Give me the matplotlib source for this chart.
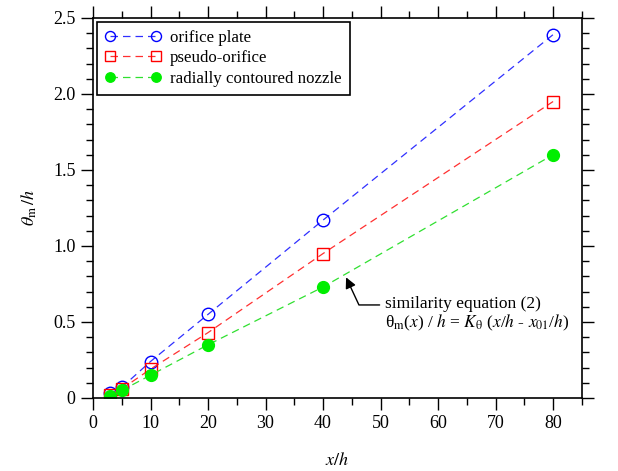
import numpy as np
import matplotlib.pyplot as plt

plt.rcParams['font.family'] = ['Liberation Serif', 'DejaVu Serif']
plt.rcParams['mathtext.fontset'] = 'stix'

# data
x = [3, 5, 10, 20, 40, 80]
orifice = [0.03, 0.07, 0.24, 0.55, 1.17, 2.39]
pseudo = [0.02, 0.06, 0.19, 0.43, 0.95, 1.95]
nozzle = [0.01, 0.05, 0.15, 0.35, 0.73, 1.60]

fig = plt.figure(figsize=(6.18, 4.71), dpi=100)
ax = fig.add_axes([0.1505, 0.155, 0.791, 0.807])

ax.plot(x, orifice, ls=(0, (6, 4)), lw=0.9, color='#3030ff', marker='o', ms=9,
        mfc='none', mec='blue', mew=1.0, label='orifice plate')
ax.plot(x, pseudo, ls=(0, (6, 4)), lw=0.9, color='#ff3030', marker='s', ms=9,
        mfc='none', mec='red', mew=1.0, label='pseudo-orifice')
ax.plot(x, nozzle, ls=(0, (6, 4)), lw=0.9, color='#30e030', marker='o', ms=8.5,
        mfc='#00ee00', mec='#00ee00', label='radially contoured nozzle')

ax.set_xlim(0, 85)
ax.set_ylim(0, 2.5)
ax.set_xticks(np.arange(0, 81, 10))
ax.set_xticks(np.arange(0, 86, 5), minor=True)
ax.set_yticks(np.arange(0, 2.51, 0.5))
ax.set_yticks(np.arange(0, 2.51, 0.1), minor=True)
ax.set_yticklabels(['0', '0.5', '1.0', '1.5', '2.0', '2.5'])

ax.tick_params(which='both', direction='out', top=True, right=True,
               labelsize=13, width=1.0)
ax.tick_params(which='major', length=8.5, pad=4)
ax.tick_params(which='minor', length=5)
for s in ax.spines.values():
    s.set_linewidth(1.2)

ax.set_xlabel(r'$x/h$', fontsize=13, labelpad=14)
ax.set_ylabel(r'$\theta_{\rm m}\,/h$', fontsize=13, labelpad=10)

leg = ax.legend(loc='upper left', bbox_to_anchor=(0.008, 0.99), borderaxespad=0,
                fontsize=12.2, handlelength=3.3, handletextpad=0.5,
                borderpad=0.5, labelspacing=0.25, fancybox=False,
                framealpha=1, edgecolor='black', numpoints=2, markerscale=0.8)
leg.get_frame().set_linewidth(1.2)

ax.annotate('similarity equation (2)\n'
            r'θ$_\mathrm{m}$($x$) / $h$ = $K_\mathrm{θ}$ ($x$/$h$ - $x_\mathrm{01}$/$h$)',
            xy=(43.8, 0.81), xytext=(50.8, 0.55), fontsize=12.5,
            va='center', ha='left', linespacing=1.1,
            arrowprops=dict(arrowstyle='-|>', color='black', lw=1.0,
                            mutation_scale=16, relpos=(0, 0.75),
                            connectionstyle='angle,angleA=0,angleB=-65,rad=0'))

fig.savefig('out.png', dpi=100)
